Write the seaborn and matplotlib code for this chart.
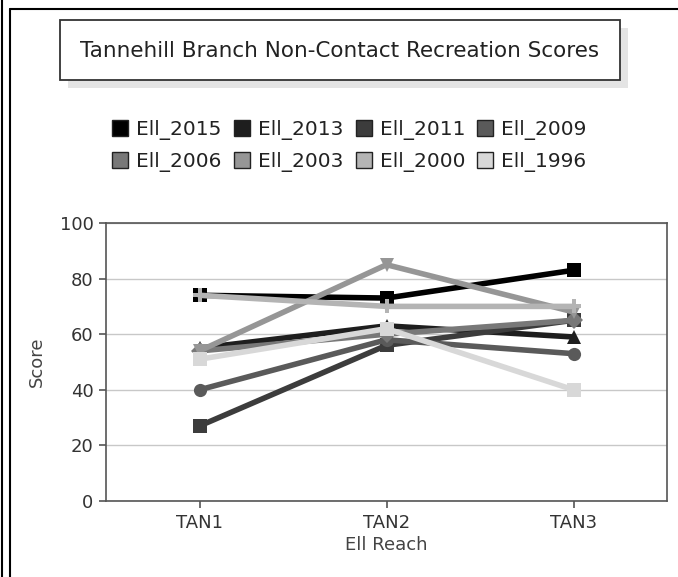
import pandas as pd
import matplotlib.pyplot as plt
import seaborn as sns
from matplotlib.lines import Line2D
from matplotlib.patches import Rectangle

reaches = ["TAN1", "TAN2", "TAN3"]
series = ["Ell_2015", "Ell_2013", "Ell_2011", "Ell_2009",
          "Ell_2006", "Ell_2003", "Ell_2000", "Ell_1996"]
scores = {
    "Ell_2015": [74, 73, 83],
    "Ell_2013": [55, 63, 59],
    "Ell_2011": [27, 56, 65],
    "Ell_2009": [40, 58, 53],
    "Ell_2006": [54, 60, 65],
    "Ell_2003": [54, 85, 68],
    "Ell_2000": [74, 70, 70],
    "Ell_1996": [51, 62, 40],
}
colors = ["#000000", "#1e1e1e", "#3c3c3c", "#5a5a5a",
          "#787878", "#969696", "#b4b4b4", "#d8d8d8"]
shapes = ["s", "^", "s", "o", "D", "v", "P", "s"]

rows = []
for name in series:
    for reach, val in zip(reaches, scores[name]):
        rows.append({"reach": reach, "score": val, "series": name})
df = pd.DataFrame(rows)

sns.set_style("white")
plt.rcParams["font.family"] = ["DejaVu Sans"]

fig = plt.figure(figsize=(6.78, 5.77), dpi=100)
ax = fig.add_axes([106 / 678, 1 - 501 / 577, (667 - 106) / 678, (501 - 223) / 577])

palette = dict(zip(series, colors))
markers = dict(zip(series, shapes))
sns.lineplot(data=df, x="reach", y="score", hue="series", style="series",
             palette=palette, markers=markers, dashes=False, sort=False,
             linewidth=4, markersize=9.5, markeredgewidth=0, ax=ax,
             legend=False)

ax.set_xlim(-0.5, 2.5)
ax.set_ylim(0, 100)
ax.set_yticks([0, 20, 40, 60, 80, 100])
ax.yaxis.grid(True, color="#c8c8c8", linewidth=1)
ax.set_axisbelow(True)
for s in ax.spines.values():
    s.set_color("#555555")
    s.set_linewidth(1.2)
ax.tick_params(axis="both", colors="#555555", labelcolor="#333333",
               labelsize=13, length=5, width=1.2, direction="out", pad=4)
ax.tick_params(left=True, bottom=True)
ax.set_xlabel("Ell Reach", fontsize=13, color="#444444", labelpad=3)
ax.set_ylabel("Score", fontsize=13, color="#444444", labelpad=10)

# legend with square swatches, filled row by row
handles = [Line2D([], [], marker="s", linestyle="", markersize=11,
                  markerfacecolor=c, markeredgecolor="#222222", markeredgewidth=1)
           for c in colors]
order = [0, 4, 1, 5, 2, 6, 3, 7]
fig.legend([handles[i] for i in order], [series[i] for i in order],
           loc="center", bbox_to_anchor=(349 / 678, 1 - 146 / 577),
           ncol=4, frameon=False, fontsize=14.5, handletextpad=0.35,
           columnspacing=0.55, labelspacing=0.6, handlelength=0.9,
           labelcolor="#222222")

# title box with shadow
fig.add_artist(Rectangle((68 / 678, 1 - 88 / 577), 560 / 678, 60 / 577,
                         transform=fig.transFigure, facecolor="#e4e4e4",
                         edgecolor="none"))
fig.add_artist(Rectangle((60 / 678, 1 - 80 / 577), 560 / 678, 60 / 577,
                         transform=fig.transFigure, facecolor="white",
                         edgecolor="#333333", linewidth=1.3))
fig.text(340 / 678, 1 - 51 / 577, "Tannehill Branch Non-Contact Recreation Scores",
         ha="center", va="center", fontsize=15.5, color="#222222")

# outer frame lines
fig.add_artist(Line2D([10 / 678, 10 / 678], [0, 1 - 9 / 577],
                      transform=fig.transFigure, color="black", linewidth=1.5))
fig.add_artist(Line2D([10 / 678, 1], [1 - 9 / 577, 1 - 9 / 577],
                      transform=fig.transFigure, color="black", linewidth=1.5))
fig.add_artist(Line2D([2 / 678, 2 / 678], [0, 1],
                      transform=fig.transFigure, color="black", linewidth=1.5))

fig.savefig("out.png", dpi=100)
